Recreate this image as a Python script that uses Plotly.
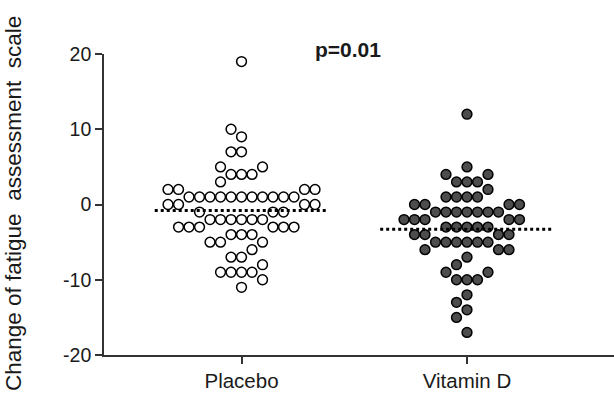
import math
import plotly.graph_objects as go

# ---- data ----
categories = ["Placebo", "Vitamin D"]

placebo_values = ([19, 10, 9] + [7] * 2 + [5] * 2 + [4] * 3 + [3] + [2] * 4 + [1] * 11 + [0] * 4
                  + [-1] * 3 + [-2] * 6 + [-3] * 6 + [-4] * 3 + [-5] * 3 + [-6] + [-7] * 2 + [-8]
                  + [-9] * 4 + [-10] + [-11])
vitd_values = ([12, 5] + [4] * 2 + [3] * 3 + [2] + [1] * 4 + [0] * 4 + [-1] * 7 + [-2] * 5
               + [-3] * 5 + [-4] * 4 + [-5] * 6 + [-6] * 3 + [-7] + [-8] + [-9] * 2 + [-10] * 3
               + [-12, -13, -14, -15, -17])
p_label = "p=0.01"
y_title = "Change of fatigue  assessment  scale"
y_ticks = [-20, -10, 0, 10, 20]
y_ticktext = ["-20", "-10", "0", "10", "20"]

# ---- layout geometry ----
W, H = 614, 404
ML, MR, MT, MB = 104, 0, 54, 49
plot_w = W - ML - MR
plot_h = H - MT - MB
x_range = [-0.61, 1.652]
y_range = [-20, 20]
px_per_x = plot_w / (x_range[1] - x_range[0])
px_per_y = plot_h / (y_range[1] - y_range[0])
SX = 10.5   # horizontal spacing between neighbouring points (px)
SY = 10.5   # vertical reach of a point (px)


def swarm_offsets(values):
    """Row-based swarm layout in pixel space, largest groups placed first."""
    groups = {}
    for i, v in enumerate(values):
        groups.setdefault(v, []).append(i)
    order = sorted(groups.keys(), key=lambda k: (-len(groups[k]), abs(k)))
    placed = []  # (x_px, y_px)
    offs = [0.0] * len(values)
    for key in order:
        for i in groups[key]:
            y = values[i] * px_per_y
            near = [(xp, yp) for (xp, yp) in placed if abs(y - yp) < SY - 1e-6]
            cands = [0.0]
            for (xp, yp) in near:
                cands += [xp + SX, xp - SX]
            cands.sort(key=lambda c: (round(abs(c), 6), c))
            for c in cands:
                if all(abs(c - xp) >= SX - 1e-6 for (xp, yp) in near):
                    break
            placed.append((c, y))
            offs[i] = c / px_per_x
    return offs


fig = go.Figure()
series = [(placebo_values, 0, "white"), (vitd_values, 1, "#4d4d4d")]
for vals, cx, fill in series:
    offs = swarm_offsets(vals)
    fig.add_trace(go.Scatter(
        x=[cx + o for o in offs], y=vals, mode="markers",
        marker=dict(size=9.8, color=fill, line=dict(color="black", width=1.5)),
        cliponaxis=False, showlegend=False, hoverinfo="y"))
    mean = sum(vals) / len(vals)
    fig.add_trace(go.Scatter(
        x=[cx - 0.385, cx + 0.385], y=[mean, mean], mode="lines",
        line=dict(color="black", width=3, dash="3px,3px"),
        showlegend=False, hoverinfo="skip"))

font_family = "Liberation Sans, Arial, sans-serif"
fig.update_layout(
    width=W, height=H,
    margin=dict(l=ML, r=MR, t=MT, b=MB, pad=0),
    paper_bgcolor="white", plot_bgcolor="white",
    font=dict(family=font_family, color="#1a1a1a"),
    xaxis=dict(range=x_range, tickvals=[0, 1], ticktext=categories,
               showgrid=False, zeroline=False, showline=True, linecolor="#333333",
               linewidth=1.6, ticks="outside", ticklen=7, tickwidth=1.6, tickcolor="#333333",
               tickfont=dict(size=20.5, family=font_family, color="#1a1a1a"),
               automargin=False),
    yaxis=dict(range=y_range, tickvals=y_ticks, ticktext=y_ticktext,
               showgrid=False, zeroline=False,
               showline=True, linecolor="#333333", linewidth=1.6, ticks="outside",
               ticklen=7, tickwidth=1.6, tickcolor="#333333",
               tickfont=dict(size=19.5, family=font_family, color="#1a1a1a"),
               automargin=False),
    annotations=[
        dict(text=y_title, textangle=-90,
             xref="paper", yref="paper", x=(13 - ML) / plot_w, y=(H - MB - 204) / plot_h,
             xanchor="center", yanchor="middle", showarrow=False,
             font=dict(size=22.5, family=font_family, color="#1a1a1a")),
        dict(text="<b>" + p_label + "</b>", xref="paper", yref="paper",
             x=(348 - ML) / plot_w, y=(H - MB - 49) / plot_h,
             xanchor="center", yanchor="middle", showarrow=False,
             font=dict(size=21, family=font_family, color="#1a1a1a")),
    ],
)

fig.write_html("out.html", config={"displayModeBar": False},
               post_script="document.body.style.margin='0';document.body.style.overflow='hidden';")
